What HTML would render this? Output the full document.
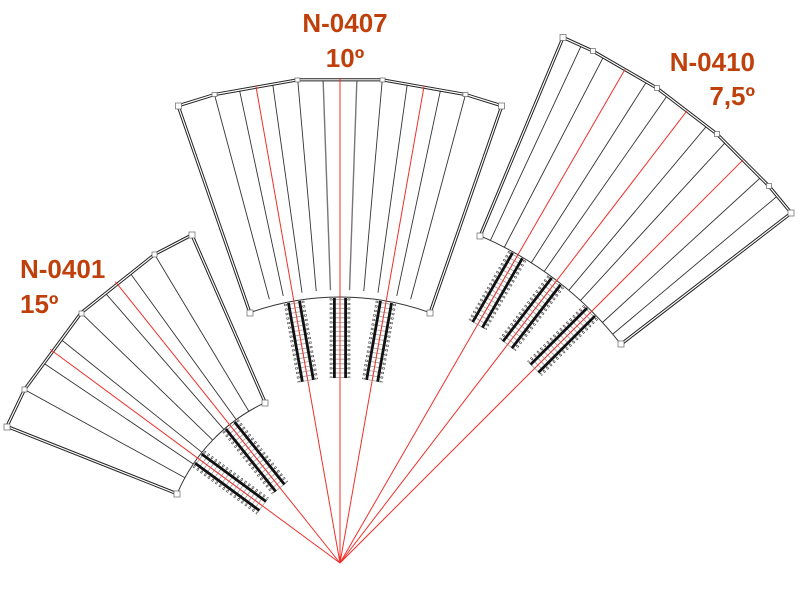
<!DOCTYPE html>
<html><head><meta charset="utf-8"><style>
html,body{margin:0;padding:0;background:#fff;width:800px;height:600px;overflow:hidden}
svg{display:block}
.lbl{font-family:"Liberation Sans",sans-serif;font-weight:bold;font-size:26px;fill:#c0400c}
</style></head><body>
<svg width="800" height="600" viewBox="0 0 800 600" xmlns="http://www.w3.org/2000/svg">
<defs>
<g id="trk">
  <line x1="0" y1="1" x2="0" y2="80" stroke="#999" stroke-width="18" stroke-dasharray="0.8 3.8"/>
  <line x1="-9" y1="0.4" x2="-9" y2="80" stroke="#444" stroke-width="2.6" stroke-dasharray="2 2.6"/>
  <line x1="9" y1="0.4" x2="9" y2="80" stroke="#444" stroke-width="2.6" stroke-dasharray="2 2.6"/>
  <line x1="-9" y1="0.4" x2="-9" y2="80" stroke="#fff" stroke-width="1.2" stroke-dasharray="1 3.6" stroke-dashoffset="-0.5"/>
  <line x1="9" y1="0.4" x2="9" y2="80" stroke="#fff" stroke-width="1.2" stroke-dasharray="1 3.6" stroke-dashoffset="-0.5"/>
  <rect x="-7" y="0" width="2.8" height="80" fill="#111"/>
  <rect x="4.2" y="0" width="2.8" height="80" fill="#111"/>
</g>
<clipPath id="cc"><path d="M249.9,312.7 L178.1,105.8 L214.5,94.5 L297.7,79.8 L382.3,79.8 L465.5,94.5 L501.9,105.8 L430.1,312.7 A266,266 0 0 0 249.9,312.7 Z"/></clipPath>
<clipPath id="cl"><path d="M177.1,493.8 L6.9,426.4 L24.5,389.6 L81.1,312.9 L154.6,254.4 L191.9,234.9 L265.2,402.6 A177,177 0 0 0 177.1,493.8 Z"/></clipPath>
<clipPath id="cr"><path d="M480.2,235.8 L563.1,37.4 L593,51.1 L656.8,88 L716.9,134 L769,186.1 L791.2,213 L620.9,344.3 A356,356 0 0 0 480.2,235.8 Z"/></clipPath>
</defs>

<path d="M249.9,312.7 L178.1,105.8 L214.5,94.5 L297.7,79.8 L382.3,79.8 L465.5,94.5 L501.9,105.8 L430.1,312.7 A266,266 0 0 0 249.9,312.7 Z" fill="#fff" stroke="#333" stroke-width="1"/>
<path d="M177.1,493.8 L6.9,426.4 L24.5,389.6 L81.1,312.9 L154.6,254.4 L191.9,234.9 L265.2,402.6 A177,177 0 0 0 177.1,493.8 Z" fill="#fff" stroke="#333" stroke-width="1"/>
<path d="M480.2,235.8 L563.1,37.4 L593,51.1 L656.8,88 L716.9,134 L769,186.1 L791.2,213 L620.9,344.3 A356,356 0 0 0 480.2,235.8 Z" fill="#fff" stroke="#333" stroke-width="1"/>

<g stroke="#333" stroke-width="0.9" clip-path="url(#cc)">
  <line x1="340" y1="290" x2="340" y2="40" transform="rotate(-15 340 563)"/>
  <line x1="340" y1="290" x2="340" y2="40" transform="rotate(-12 340 563)"/>
  <line x1="340" y1="290" x2="340" y2="40" transform="rotate(-8 340 563)"/>
  <line x1="340" y1="290" x2="340" y2="40" transform="rotate(-5 340 563)"/>
  <line x1="340" y1="290" x2="340" y2="40" transform="rotate(-2 340 563)" stroke="#777" stroke-width="1.4"/>
  <line x1="340" y1="290" x2="340" y2="40" transform="rotate(2 340 563)" stroke="#777" stroke-width="1.4"/>
  <line x1="340" y1="290" x2="340" y2="40" transform="rotate(5 340 563)"/>
  <line x1="340" y1="290" x2="340" y2="40" transform="rotate(8 340 563)"/>
  <line x1="340" y1="290" x2="340" y2="40" transform="rotate(12 340 563)"/>
  <line x1="340" y1="290" x2="340" y2="40" transform="rotate(15 340 563)"/>
</g>
<g stroke="#333" stroke-width="0.9" clip-path="url(#cl)">
  <line x1="340" y1="390" x2="340" y2="180" transform="rotate(-61.2 340 563)"/>
  <line x1="340" y1="390" x2="340" y2="180" transform="rotate(-56 340 563)"/>
  <line x1="340" y1="390" x2="340" y2="180" transform="rotate(-51.3 340 563)"/>
  <line x1="340" y1="390" x2="340" y2="180" transform="rotate(-46 340 563)"/>
  <line x1="340" y1="390" x2="340" y2="180" transform="rotate(-41 340 563)"/>
  <line x1="340" y1="390" x2="340" y2="180" transform="rotate(-35.9 340 563)"/>
  <line x1="340" y1="390" x2="340" y2="180" transform="rotate(-31 340 563)"/>
</g>
<g stroke="#333" stroke-width="0.9" clip-path="url(#cr)">
  <line x1="340" y1="210" x2="340" y2="-30" transform="rotate(25 340 563)"/>
  <line x1="340" y1="210" x2="340" y2="-30" transform="rotate(27.5 340 563)"/>
  <line x1="340" y1="210" x2="340" y2="-30" transform="rotate(32.5 340 563)"/>
  <line x1="340" y1="210" x2="340" y2="-30" transform="rotate(35 340 563)"/>
  <line x1="340" y1="210" x2="340" y2="-30" transform="rotate(40 340 563)"/>
  <line x1="340" y1="210" x2="340" y2="-30" transform="rotate(42.5 340 563)"/>
  <line x1="340" y1="210" x2="340" y2="-30" transform="rotate(47.5 340 563)"/>
  <line x1="340" y1="210" x2="340" y2="-30" transform="rotate(50 340 563)"/>
</g>

<g fill="none" stroke-linejoin="miter">
  <path d="M249.9,312.7 L178.1,105.8 L214.5,94.5 L297.7,79.8 L382.3,79.8 L465.5,94.5 L501.9,105.8 L430.1,312.7" stroke="#222" stroke-width="3.2"/>
  <path d="M249.9,312.7 L178.1,105.8 L214.5,94.5 L297.7,79.8 L382.3,79.8 L465.5,94.5 L501.9,105.8 L430.1,312.7" stroke="#fff" stroke-width="1.2"/>
  <path d="M177.1,493.8 L6.9,426.4 L24.5,389.6 L81.1,312.9 L154.6,254.4 L191.9,234.9 L265.2,402.6" stroke="#222" stroke-width="3.2"/>
  <path d="M177.1,493.8 L6.9,426.4 L24.5,389.6 L81.1,312.9 L154.6,254.4 L191.9,234.9 L265.2,402.6" stroke="#fff" stroke-width="1.2"/>
  <path d="M480.2,235.8 L563.1,37.4 L593,51.1 L656.8,88 L716.9,134 L769,186.1 L791.2,213 L620.9,344.3" stroke="#222" stroke-width="3.2"/>
  <path d="M480.2,235.8 L563.1,37.4 L593,51.1 L656.8,88 L716.9,134 L769,186.1 L791.2,213 L620.9,344.3" stroke="#fff" stroke-width="1.2"/>
</g>
<g fill="#fff" stroke="#666" stroke-width="0.7">
  <rect x="175.5" y="103" width="6" height="6"/><rect x="498.5" y="103" width="6" height="6"/>
  <rect x="212" y="92.5" width="5" height="4"/><rect x="295" y="78" width="5" height="4"/>
  <rect x="380" y="78" width="5" height="4"/><rect x="463" y="92.5" width="5" height="4"/>
  <rect x="247" y="310" width="6" height="6"/><rect x="427" y="310" width="6" height="6"/>
  <rect x="4" y="424" width="6" height="6"/><rect x="189" y="232" width="6" height="6"/>
  <rect x="22" y="387" width="5" height="5"/><rect x="79" y="311" width="5" height="5"/>
  <rect x="152" y="252" width="5" height="5"/><rect x="262" y="400" width="6" height="6"/>
  <rect x="174" y="491" width="6" height="6"/>
  <rect x="560" y="34.5" width="6" height="6"/><rect x="788" y="210" width="6" height="6"/>
  <rect x="590.5" y="48.5" width="5" height="5"/><rect x="654.5" y="85.5" width="5" height="5"/>
  <rect x="714.5" y="131.5" width="5" height="5"/><rect x="766.5" y="183.5" width="5" height="5"/>
  <rect x="477" y="233" width="6" height="6"/><rect x="618" y="341" width="6" height="6"/>
</g>

<g stroke="#f0302a" stroke-width="1">
  <line x1="340" y1="563" x2="340" y2="78" transform="rotate(-10 340 563)"/>
  <line x1="340" y1="563" x2="340" y2="78"/>
  <line x1="340" y1="563" x2="340" y2="78" transform="rotate(10 340 563)"/>
  <line x1="340" y1="563" x2="340" y2="203" transform="rotate(-38.6 340 563)"/>
  <line x1="340" y1="563" x2="340" y2="203" transform="rotate(-53.6 340 563)"/>
  <line x1="340" y1="563" x2="340" y2="-7" transform="rotate(30 340 563)"/>
  <line x1="340" y1="563" x2="340" y2="-7" transform="rotate(37.5 340 563)"/>
  <line x1="340" y1="563" x2="340" y2="-7" transform="rotate(45 340 563)"/>
</g>

<use href="#trk" transform="rotate(-10 340 563) translate(340 298)"/>
<use href="#trk" transform="translate(340 298)"/>
<use href="#trk" transform="rotate(10 340 563) translate(340 298)"/>
<use href="#trk" transform="rotate(-38.6 340 563) translate(340 387)"/>
<use href="#trk" transform="rotate(-53.6 340 563) translate(340 387)"/>
<use href="#trk" transform="rotate(30 340 563) translate(340 208)"/>
<use href="#trk" transform="rotate(37.5 340 563) translate(340 208)"/>
<use href="#trk" transform="rotate(45 340 563) translate(340 208)"/>
<g stroke="#f0302a" stroke-width="0.8">
  <line x1="340" y1="298" x2="340" y2="378" transform="rotate(-10 340 563)"/>
  <line x1="340" y1="298" x2="340" y2="378"/>
  <line x1="340" y1="298" x2="340" y2="378" transform="rotate(10 340 563)"/>
  <line x1="340" y1="387" x2="340" y2="467" transform="rotate(-38.6 340 563)"/>
  <line x1="340" y1="387" x2="340" y2="467" transform="rotate(-53.6 340 563)"/>
  <line x1="340" y1="208" x2="340" y2="288" transform="rotate(30 340 563)"/>
  <line x1="340" y1="208" x2="340" y2="288" transform="rotate(37.5 340 563)"/>
  <line x1="340" y1="208" x2="340" y2="288" transform="rotate(45 340 563)"/>
</g>

<text class="lbl" x="345" y="32" text-anchor="middle">N-0407</text>
<text class="lbl" x="345" y="67" text-anchor="middle">10º</text>
<text class="lbl" x="20" y="278">N-0401</text>
<text class="lbl" x="20" y="313">15º</text>
<text class="lbl" x="755" y="71" text-anchor="end">N-0410</text>
<text class="lbl" x="755" y="105" text-anchor="end">7,5º</text>
</svg>
</body></html>
